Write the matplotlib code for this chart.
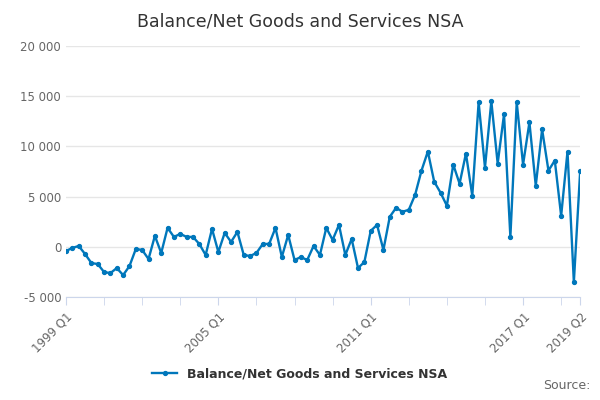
import matplotlib
matplotlib.use("Agg")
import matplotlib.pyplot as plt
from matplotlib.ticker import FuncFormatter

values = [-400, -100, 100, -700,
          -1600, -1700, -2500, -2600,
          -2100, -2800, -1900, -200,
          -300, -1200, 1100, -600,
          1900, 1000, 1300, 1000,
          1000, 300, -800, 1800,
          -500, 1400, 500, 1500,
          -800, -900, -600, 300,
          300, 1900, -1000, 1200,
          -1300, -1000, -1300, 100,
          -800, 1900, 700, 2200,
          -800, 800, -2100, -1500,
          1600, 2200, -300, 3000,
          3900, 3500, 3700, 5200,
          7600, 9500, 6500, 5400,
          4100, 8200, 6300, 9300,
          5100, 14400, 7900, 14500,
          8300, 13200, 1000, 14400,
          8200, 12400, 6100, 11700,
          7600, 8600, 3100, 9500,
          -3500, 7600]
labels = [f"{1999 + i // 4} Q{i % 4 + 1}" for i in range(len(values))]
shown = ["1999 Q1", "2005 Q1", "2011 Q1", "2017 Q1", "2019 Q2"]
color = "#0077bb"

fig = plt.figure(figsize=(6, 4), dpi=100)
ax = fig.add_axes([0.11, 0.257, 0.857, 0.628])
x = list(range(len(values)))
ax.plot(x, values, color=color, lw=1.7, marker="o", ms=2.8, label="Balance/Net Goods and Services NSA")
ax.set_ylim(-5000, 20000)
ax.set_xlim(0, len(values) - 1)
ax.set_yticks(range(-5000, 20001, 5000))
ax.yaxis.set_major_formatter(FuncFormatter(lambda v, p: f"{int(v):,}".replace(",", " ")))
ax.grid(axis="y", color="#e6e6e6", lw=1)
ax.set_axisbelow(True)
for s in ["top", "right", "left"]:
    ax.spines[s].set_visible(False)
ax.spines["bottom"].set_color("#ccd6eb")
ax.tick_params(axis="y", length=0, labelsize=8.5, colors="#666666")
pos = [labels.index(s) for s in shown]
ax.set_xticks(pos)
ax.set_xticklabels(shown, rotation=45, ha="right", rotation_mode="anchor", fontsize=8.5, color="#666666")
ax.set_xticks(list(range(0, len(values), 6)), minor=True)
ax.tick_params(axis="x", which="both", length=6, color="#ccd6eb")
fig.suptitle("Balance/Net Goods and Services NSA", y=0.97, fontsize=12.5, color="#333333")
fig.legend(loc="center", bbox_to_anchor=(0.5, 0.065), frameon=False,
           prop={"weight": "bold", "size": 9}, labelcolor="#333333")
fig.text(0.985, 0.02, "Source:", ha="right", va="bottom", fontsize=9, color="#666666")
fig.savefig("out.png")
